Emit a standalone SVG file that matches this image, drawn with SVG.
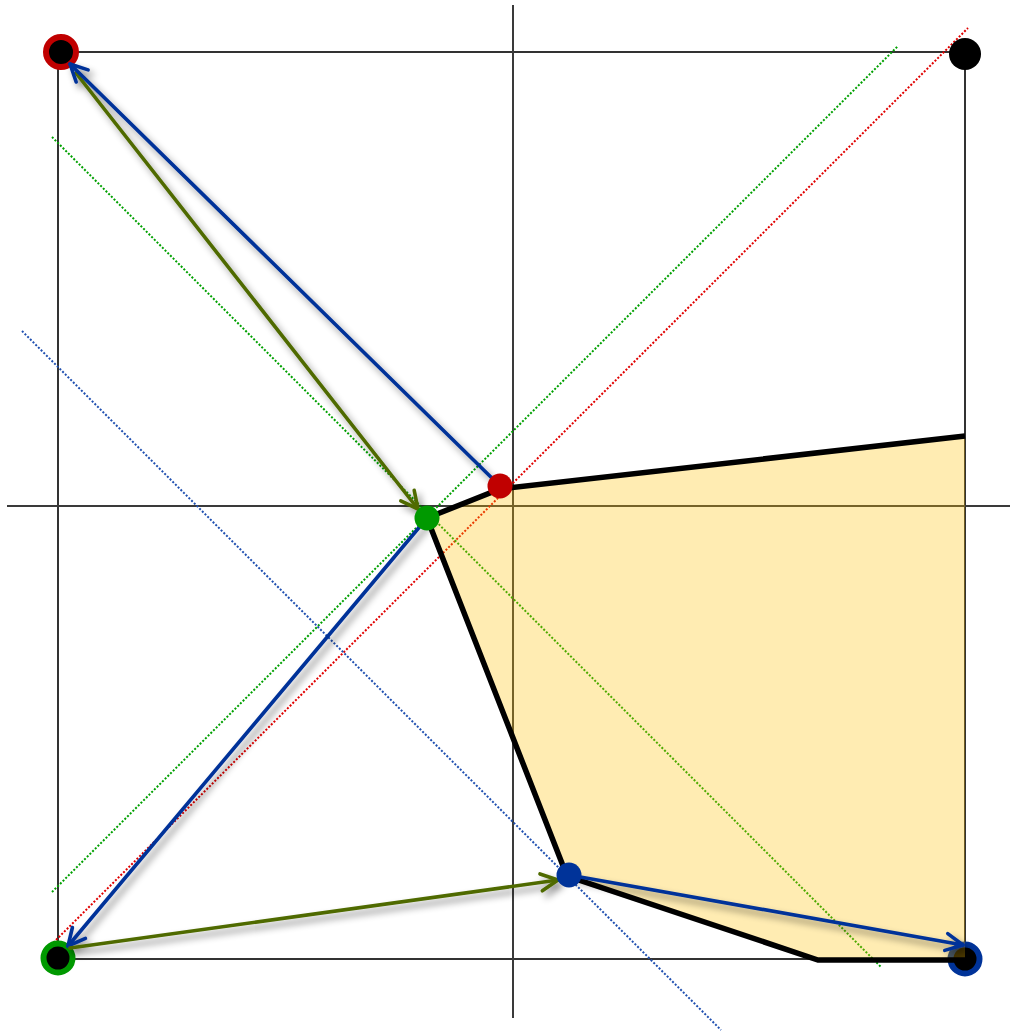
<svg xmlns="http://www.w3.org/2000/svg" width="1011" height="1035" viewBox="0 0 1011 1035">
<defs>
<style>
.frame{stroke:#000;stroke-width:1.6;fill:none}
.axis{stroke:#3a3a3a;stroke-width:2;fill:none}
.dot{stroke-width:2;stroke-dasharray:2 1.8;fill:none}
.arrow{stroke-width:3.6;fill:none;stroke-linecap:round}
.blue{stroke:#003399}
.olive{stroke:#506B00}
</style>
<marker id="hb" markerUnits="userSpaceOnUse" markerWidth="26" markerHeight="24" refX="20" refY="10" orient="auto" overflow="visible">
<path d="M3,1.5 L20,10 L3,18.5" fill="none" stroke="#003399" stroke-width="3.6" stroke-linecap="round" stroke-linejoin="round"/>
</marker>
<marker id="ho" markerUnits="userSpaceOnUse" markerWidth="26" markerHeight="24" refX="20" refY="10" orient="auto" overflow="visible">
<path d="M3,1.5 L20,10 L3,18.5" fill="none" stroke="#506B00" stroke-width="3.6" stroke-linecap="round" stroke-linejoin="round"/>
</marker>
<filter id="sh" x="-20%" y="-20%" width="140%" height="140%">
<feDropShadow dx="4" dy="5" stdDeviation="3.5" flood-color="#000" flood-opacity="0.45"/>
</filter>
</defs>
<rect width="1011" height="1035" fill="#fff"/>
<g id="frame">
<rect class="frame" x="58" y="52" width="907" height="907"/>
<line class="axis" x1="513" y1="5" x2="513" y2="1018"/>
<line class="axis" x1="7" y1="506" x2="1010" y2="506"/>
</g>
<g id="guides">
<line class="dot" stroke="#E00000" x1="48" y1="948" x2="968" y2="28"/>
<line class="dot" stroke="#00A000" x1="52" y1="892" x2="898" y2="46"/>
<line class="dot" stroke="#00A000" x1="52" y1="137" x2="881" y2="967"/>
<line class="dot" stroke="#1F4FB0" x1="22" y1="331" x2="721" y2="1030"/>
</g>
<g id="corner-tl"><circle cx="61" cy="52" r="15" fill="#000" stroke="#C00000" stroke-width="6"/></g>
<g id="corner-tr"><circle cx="965" cy="54" r="16" fill="#000"/></g>
<g id="corner-bl"><circle cx="58" cy="958" r="14.5" fill="#000" stroke="#009900" stroke-width="6"/></g>
<g id="corner-br"><circle cx="965" cy="959" r="14.5" fill="#000" stroke="#003399" stroke-width="6"/></g>
<g id="region">
<polygon points="965,436 500,489 427,518 569,875 818,960 965,960" fill="#FFC000" fill-opacity="0.3"/>
<polyline points="965,436 500,489 427,518 567,876 818,960 965,960" fill="none" stroke="#000" stroke-width="5.5" stroke-linejoin="miter"/>
</g>
<g id="connectors" filter="url(#sh)">
<line class="arrow olive" x1="76" y1="73" x2="418" y2="509" marker-end="url(#ho)"/>
<line class="arrow blue" x1="500" y1="486" x2="70" y2="64" marker-end="url(#hb)"/>
<line class="arrow blue" x1="427" y1="518" x2="68" y2="946" marker-end="url(#hb)"/>
<line class="arrow olive" x1="70" y1="948" x2="558" y2="880" marker-end="url(#ho)"/>
<line class="arrow blue" x1="569" y1="875" x2="963" y2="945" marker-end="url(#hb)"/>
</g>
<g id="point-red"><circle cx="500" cy="486" r="12.5" fill="#C00000"/></g>
<g id="point-green"><circle cx="427" cy="518" r="12.5" fill="#009900"/></g>
<g id="point-blue"><circle cx="569" cy="875" r="12.5" fill="#003399"/></g>
</svg>
